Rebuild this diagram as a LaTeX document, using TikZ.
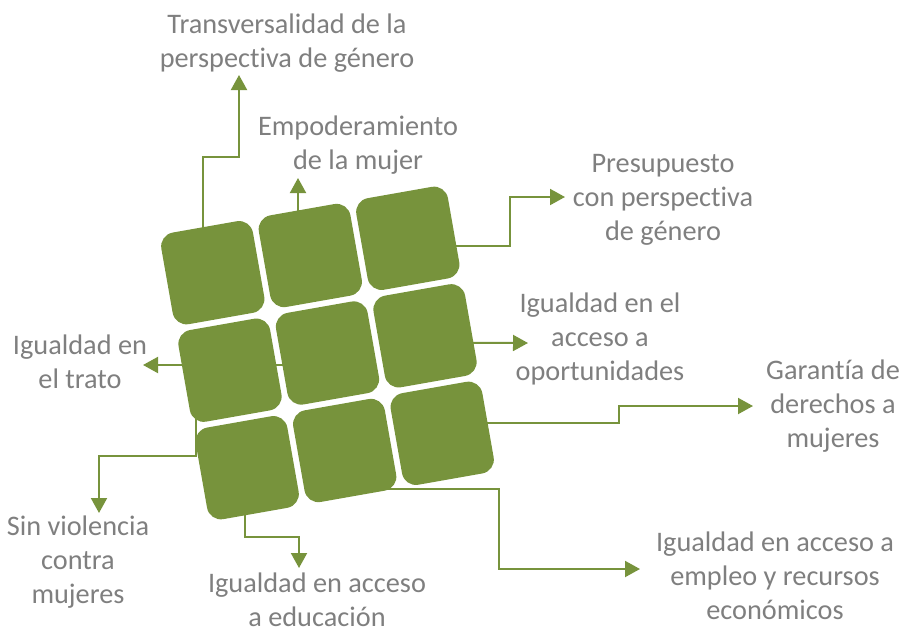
\documentclass[tikz,border=0pt]{standalone}
\usepackage{fontspec}
\setmainfont{Carlito}[Ligatures={NoCommon}]
\usetikzlibrary{arrows.meta,calc}
\definecolor{tilegreen}{HTML}{77933C}
\definecolor{textgray}{HTML}{7F7F7F}
\pgfdeclarelayer{bg}
\pgfsetlayers{bg,main}
\tikzset{
  tile/.style={fill=tilegreen, draw=none, rounded corners=14pt, minimum width=93pt, minimum height=93pt, rotate=10, inner sep=0},
  conn/.style={draw=tilegreen, line width=2pt, -{Triangle[length=15pt,width=16pt]}},
  lbl/.style={text=textgray, align=center, inner sep=0, font=\fontsize{28.3}{34}\selectfont}
}
\begin{document}
\begin{tikzpicture}[x=1pt,y=-1pt]
\useasboundingbox (0,0) rectangle (902,632);
% tiles
\node[tile] (A) at (212.8,272.7) {};
\node[tile] (B) at (310.3,255.5) {};
\node[tile] (C) at (407.8,238.3) {};
\node[tile] (D) at (230,370.2) {};
\node[tile] (E) at (327.5,353) {};
\node[tile] (F) at (425,335.8) {};
\node[tile] (G) at (247.2,467.7) {};
\node[tile] (H) at (344.7,450.5) {};
\node[tile] (I) at (442.2,433.3) {};
% labels
\node[lbl] (t1) at (287,43) {Transversalidad de la\\perspectiva de género};
\node[lbl] (t2) at (358,145) {Empoderamiento\\de la mujer};
\node[lbl] (t3) at (663,200) {Presupuesto\\con perspectiva\\de género};
\node[lbl] (t4) at (600,339) {Igualdad en el\\acceso a\\oportunidades};
\node[lbl] (t5) at (833,406) {Garantía de\\derechos a\\mujeres};
\node[lbl] (t6) at (80,362) {Igualdad en\\el trato};
\node[lbl] (t7) at (78,562) {Sin violencia\\contra\\mujeres};
\node[lbl] (t8) at (317,600) {Igualdad en acceso\\a educación};
\node[lbl] (t9) at (775,576) {Igualdad en acceso a\\empleo y recursos\\económicos};
% arrow tips
\coordinate (p1) at (239,75);
\coordinate (p2) at (298,178);
\coordinate (p3) at (565,197);
\coordinate (p4) at (528,343);
\coordinate (p5) at (753,406);
\coordinate (p6) at (143,365);
\coordinate (p7) at (99,513);
\coordinate (p8) at (299,568);
\coordinate (p9) at (640,569);
\begin{pgfonlayer}{bg}
\draw[conn] ($(A)+(-10,0)$) |- (239,157) -- (p1);
\draw[conn] ($(B)+(10,0)$) |- (298,211) -- (p2);
\draw[conn] ($(C)+(0,8)$) -| (510,197) -- (p3);
\draw[conn] ($(F)+(0,7)$) -- (p4);
\draw[conn] ($(I)+(0,-10)$) -| (619,406) -- (p5);
\draw[conn] ($(E)+(0,12)$) -- (p6);
\draw[conn] ($(D)+(-34,0)$) |- (99,456) -- (p7);
\draw[conn] ($(G)+(-2,0)$) |- (299,537) -- (p8);
\draw[conn] ($(H)+(11,0)$) |- (499,489) |- (p9);
\end{pgfonlayer}
\end{tikzpicture}
\end{document}
